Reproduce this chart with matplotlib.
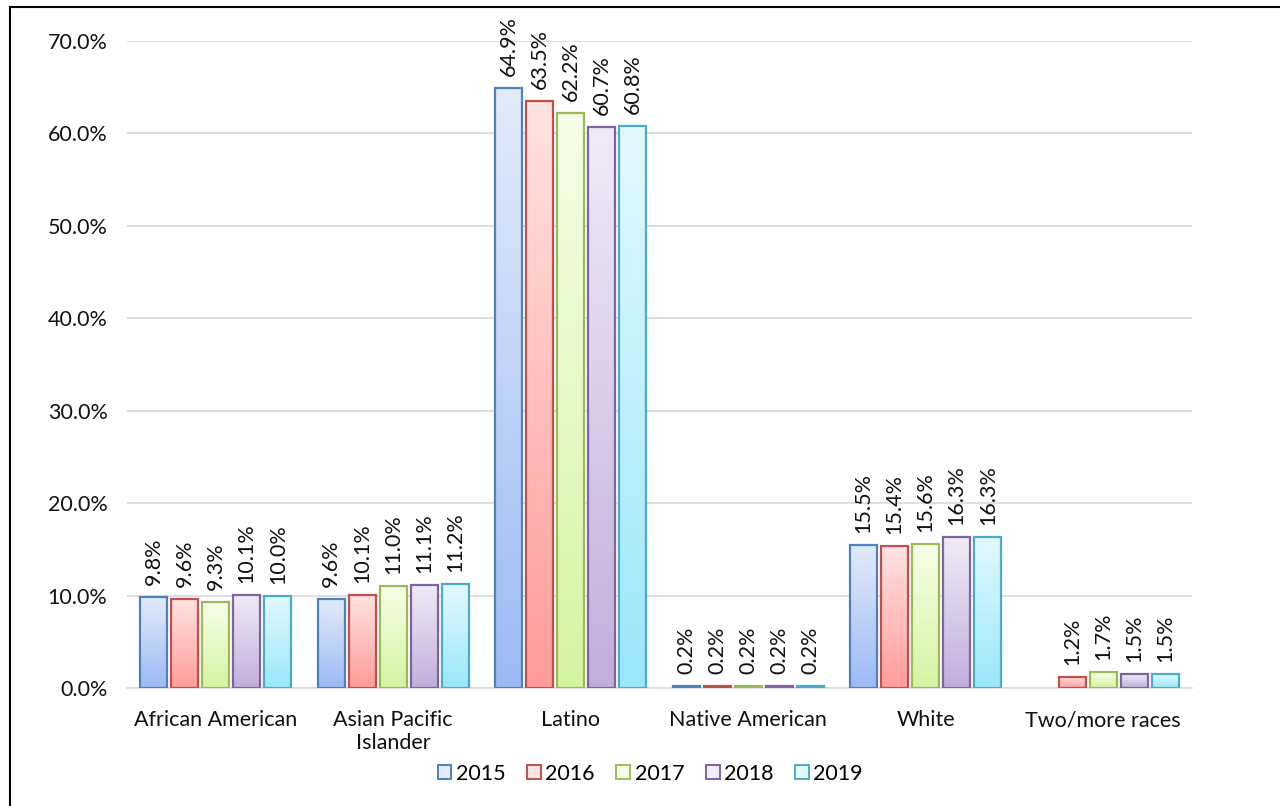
import numpy as np
import matplotlib.pyplot as plt
from matplotlib.colors import LinearSegmentedColormap
from matplotlib.patches import Patch, Rectangle

plt.rcParams['font.family'] = ['Lato', 'DejaVu Sans']

categories = ['African American', 'Asian Pacific\nIslander', 'Latino',
              'Native American', 'White', 'Two/more races']
years = ['2015', '2016', '2017', '2018', '2019']
v2015 = [9.8, 9.6, 64.9, 0.2, 15.5, np.nan]
v2016 = [9.6, 10.1, 63.5, 0.2, 15.4, 1.2]
v2017 = [9.3, 11.0, 62.2, 0.2, 15.6, 1.7]
v2018 = [10.1, 11.1, 60.7, 0.2, 16.3, 1.5]
v2019 = [10.0, 11.2, 60.8, 0.2, 16.3, 1.5]
series = [v2015, v2016, v2017, v2018, v2019]

# edge colour, light (top) and dark (bottom) fill
edges = ['#4F81BD', '#C0504D', '#9BBB59', '#8064A2', '#4BACC6']
tops = ['#E3EBFA', '#FFE3E3', '#F5FFE8', '#F0EBF7', '#E3F9FE']
bottoms = ['#9CBAF4', '#FF9C99', '#D5F4A2', '#C2AEDC', '#9AE7FA']

fig = plt.figure(figsize=(12.8, 8.06), dpi=100)
ax = fig.add_axes([0.0992, 0.1464, 0.832, 0.8027])

x = np.arange(len(categories))
step = 0.175
width = 0.152

for i, vals in enumerate(series):
    cmap = LinearSegmentedColormap.from_list('g%d' % i, [bottoms[i], tops[i]])
    grad = np.linspace(0, 1, 256).reshape(-1, 1)
    pos = x + (i - 2) * step
    for xp, v in zip(pos, vals):
        if np.isnan(v):
            continue
        bar = ax.bar(xp, v, width=width, facecolor='none', edgecolor=edges[i],
                     linewidth=1.6, zorder=3)[0]
        im = ax.imshow(grad, cmap=cmap, aspect='auto', origin='lower',
                       extent=[xp - width / 2, xp + width / 2, 0, v], zorder=2)
        im.set_clip_path(bar)
        ax.text(xp, v + 1.3, '%.1f%%' % v, rotation=90, ha='center', va='bottom',
                fontsize=15.5, color='#111111')

ax.set_xlim(-0.5, 5.5)
ax.set_ylim(0, 70)
ax.set_yticks(np.arange(0, 71, 10))
ax.set_yticklabels(['%.1f%%' % t for t in np.arange(0, 71, 10)])
ax.set_xticks(x)
ax.set_xticklabels(categories)
ax.tick_params(axis='both', length=0, labelsize=15.5, colors='#111111')
ax.tick_params(axis='x', pad=16)
ax.tick_params(axis='y', pad=14)
ax.grid(axis='y', color='#D9D9D9', linewidth=1.2, zorder=0)
ax.set_axisbelow(True)
for s in ['left', 'right', 'top']:
    ax.spines[s].set_visible(False)
ax.spines['bottom'].set_color('#D9D9D9')
ax.spines['bottom'].set_linewidth(1.2)

handles = [Patch(facecolor=tops[i], edgecolor=edges[i], linewidth=1.4, label=years[i])
           for i in range(5)]
fig.legend(handles=handles, loc='center', bbox_to_anchor=(0.508, 0.04), ncol=5,
           frameon=False, fontsize=15.5, handlelength=0.65, handleheight=0.65,
           handletextpad=0.2, columnspacing=1.0)

# outer frame
fig.patches.append(Rectangle((10 / 1280, -0.05), 1.1, 1.05 - 7 / 806, transform=fig.transFigure,
                             fill=False, edgecolor='black', linewidth=1.5))

fig.savefig('out.png', dpi=100)
